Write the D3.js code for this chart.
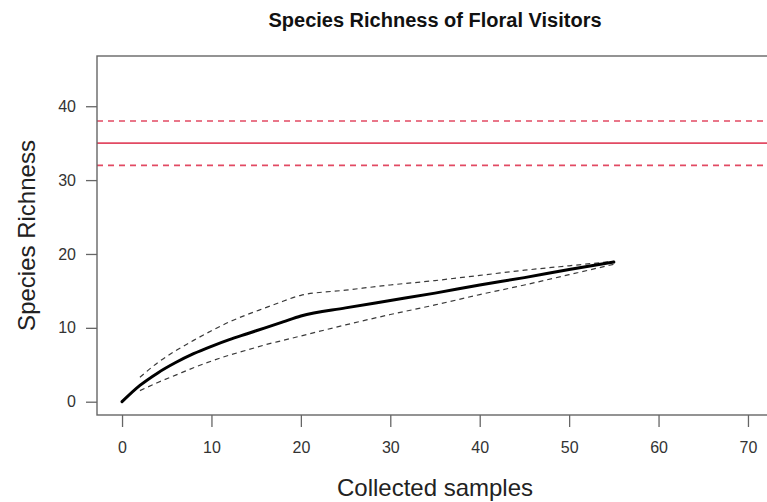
<!DOCTYPE html>
<html>
<head>
<meta charset="utf-8">
<style>
  body { margin: 0; background: white; font-family: "Liberation Sans", Arial, Helvetica, sans-serif; }
  svg { display: block; }
</style>
<script src="https://cdn.jsdelivr.net/npm/d3@7"></script>
</head>
<body>
<svg id="chart"></svg>
<script>
// rarefaction curve
let samples = [0, 2, 4, 6, 8, 10, 12, 14, 16, 18, 20, 25, 30, 35, 40, 45, 50, 55]
let richness = [0, 2.2, 3.9, 5.3, 6.5, 7.5, 8.4, 9.2, 10.0, 10.8, 11.6, 12.7, 13.7, 14.7, 15.8, 16.8, 17.9, 18.9]

// confidence band (dashed), starts at 2 samples
let ciSamples = [2, 4, 6, 8, 10, 12, 14, 16, 18, 20, 25, 30, 35, 40, 45, 50, 55]
let ciUpper = [3.3, 5.3, 6.9, 8.3, 9.6, 10.8, 11.8, 12.7, 13.6, 14.4, 15.1, 15.8, 16.4, 17.1, 17.8, 18.4, 19.0]
let ciLower = [1.5, 2.6, 3.6, 4.6, 5.5, 6.3, 7.0, 7.7, 8.3, 8.9, 10.4, 11.8, 13.1, 14.5, 15.8, 17.2, 18.6]

// estimated total richness with its interval (red lines)
let estimate = 35
let estimateLow = 32
let estimateHigh = 38

let xTicks = [0, 10, 20, 30, 40, 50, 60, 70]
let yTicks = [0, 10, 20, 30, 40]
let xLim = [0, 70]
let yLim = [0, 45]

function getConfig() {
    let width = 767
    let height = 502
    let plot = { left: 97, top: 56, right: 773, bottom: 415 }
    let container = d3.select('#chart')
        .attr('width', width)
        .attr('height', height)
    return { width, height, plot, container }
}

function getScales(config) {
    let { plot } = config
    // R style: limits stretched by 4% on each side
    let xPad = (xLim[1] - xLim[0]) * 0.04
    let yPad = (yLim[1] - yLim[0]) * 0.04
    let xScale = d3.scaleLinear()
        .domain([xLim[0] - xPad, xLim[1] + xPad])
        .range([plot.left, plot.right])
    let yScale = d3.scaleLinear()
        .domain([yLim[0] - yPad, yLim[1] + yPad])
        .range([plot.bottom, plot.top])
    return { xScale, yScale }
}

function drawLines(scales, config) {
    let { xScale, yScale } = scales
    let { container, plot, width } = config

    let refs = [
        { v: estimateHigh, dash: '6,5' },
        { v: estimate, dash: null },
        { v: estimateLow, dash: '6,5' }
    ]
    container.append('g').selectAll('line').data(refs).enter().append('line')
        .attr('x1', plot.left)
        .attr('x2', width)
        .attr('y1', d => yScale(d.v))
        .attr('y2', d => yScale(d.v))
        .attr('stroke', '#e24a63')
        .attr('stroke-width', 1.6)
        .attr('stroke-dasharray', d => d.dash)

    let line = d3.line()
        .x(d => xScale(d[0]))
        .y(d => yScale(d[1]))
        .curve(d3.curveMonotoneX)

    let upper = ciSamples.map((s, i) => [s, ciUpper[i]])
    let lower = ciSamples.map((s, i) => [s, ciLower[i]])
    container.append('g').selectAll('path').data([upper, lower]).enter().append('path')
        .attr('d', line)
        .attr('fill', 'none')
        .attr('stroke', '#3a3a3a')
        .attr('stroke-width', 1.2)
        .attr('stroke-dasharray', '5,4')

    container.append('path')
        .datum(samples.map((s, i) => [s, richness[i]]))
        .attr('d', line)
        .attr('fill', 'none')
        .attr('stroke', 'black')
        .attr('stroke-width', 3)
        .attr('stroke-linecap', 'round')
}

function drawAxes(scales, config) {
    let { xScale, yScale } = scales
    let { container, plot } = config

    // box (right side falls outside the picture)
    container.append('rect')
        .attr('x', plot.left)
        .attr('y', plot.top)
        .attr('width', plot.right - plot.left)
        .attr('height', plot.bottom - plot.top)
        .attr('fill', 'none')
        .attr('stroke', '#666')
        .attr('stroke-width', 1.4)

    let axisX = d3.axisBottom(xScale)
        .tickValues(xTicks)
        .tickSize(12)
        .tickPadding(15)
        .tickSizeOuter(0)
    let gx = container.append('g')
        .attr('transform', `translate(0,${plot.bottom})`)
        .call(axisX)
    gx.select('.domain').remove()
    gx.selectAll('line').attr('stroke', '#666').attr('stroke-width', 1.3)
    gx.selectAll('text')
        .attr('fill', '#333')
        .style('font-size', '16px')
        .style('font-family', '"Liberation Sans", Arial, sans-serif')

    let axisY = d3.axisLeft(yScale)
        .tickValues(yTicks)
        .tickSize(11)
        .tickPadding(10)
        .tickSizeOuter(0)
    let gy = container.append('g')
        .attr('transform', `translate(${plot.left},0)`)
        .call(axisY)
    gy.select('.domain').remove()
    gy.selectAll('line').attr('stroke', '#666').attr('stroke-width', 1.3)
    gy.selectAll('text')
        .attr('fill', '#333')
        .style('font-size', '16px')
        .style('font-family', '"Liberation Sans", Arial, sans-serif')

    let midX = (plot.left + plot.right) / 2
    container.append('text')
        .attr('x', midX)
        .attr('y', 27)
        .attr('text-anchor', 'middle')
        .style('font-size', '20px')
        .style('font-weight', 'bold')
        .attr('fill', '#111')
        .text('Species Richness of Floral Visitors')

    container.append('text')
        .attr('x', midX)
        .attr('y', 496)
        .attr('text-anchor', 'middle')
        .style('font-size', '24px')
        .attr('fill', '#222')
        .text('Collected samples')

    container.append('text')
        .attr('transform', `translate(35,${(plot.top + plot.bottom) / 2}) rotate(-90)`)
        .attr('text-anchor', 'middle')
        .style('font-size', '24px')
        .attr('fill', '#222')
        .text('Species Richness')
}

let config = getConfig()
let scales = getScales(config)
drawLines(scales, config)
drawAxes(scales, config)
</script>
</body>
</html>
